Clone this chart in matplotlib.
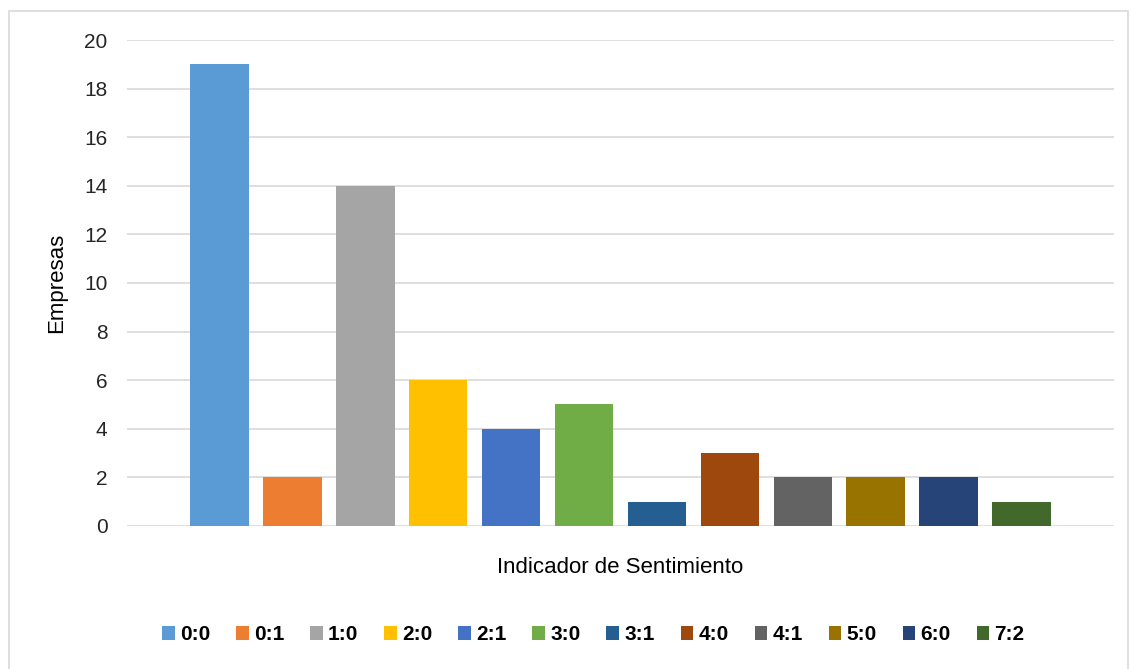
import matplotlib.pyplot as plt
from matplotlib.patches import Rectangle

plt.rcParams['font.family'] = ['Liberation Sans', 'DejaVu Sans']

labels = ['0:0', '0:1', '1:0', '2:0', '2:1', '3:0', '3:1', '4:0', '4:1', '5:0', '6:0', '7:2']
empresas = [19, 2, 14, 6, 4, 5, 1, 3, 2, 2, 2, 1]
colors = ['#5B9BD5', '#ED7D31', '#A5A5A5', '#FFC000', '#4472C4', '#70AD47',
          '#255E91', '#9E480E', '#636363', '#997300', '#264478', '#43682B']

fig = plt.figure(figsize=(11.3, 6.69), dpi=100)
ax = fig.add_axes([0.1124, 0.2138, 0.8734, 0.7264])

for i, (lab, val, col) in enumerate(zip(labels, empresas, colors)):
    ax.bar(i, val, width=0.8, color=col, label=lab, zorder=3)

ax.set_xlim(-1.27, 12.27)
ax.set_ylim(0, 20)
ax.set_yticks(range(0, 21, 2))
ax.set_xticks([])
ax.grid(axis='y', color='#d9d9d9', linewidth=1.2, zorder=0)
for s in ax.spines.values():
    s.set_visible(False)
ax.tick_params(axis='y', length=0, labelsize=15, pad=14)
for t in ax.get_yticklabels():
    t.set_color('#262626')

ax.set_ylabel('Empresas', fontsize=16, labelpad=12)
ax.set_xlabel('Indicador de Sentimiento', fontsize=16, labelpad=22)

fig.legend(loc='center', bbox_to_anchor=(0.525, 0.051), ncol=12, frameon=False,
           prop={'weight': 'bold', 'size': 15}, handlelength=0.6, handleheight=0.6,
           handletextpad=0.25, columnspacing=1.25)

fig.patches.append(Rectangle((9 / 1130, -0.01), 1119 / 1130, 1 - 11 / 669 + 0.01,
                             transform=fig.transFigure, fill=False,
                             edgecolor='#d9d9d9', linewidth=1.2))

fig.savefig('out.png', dpi=100)
